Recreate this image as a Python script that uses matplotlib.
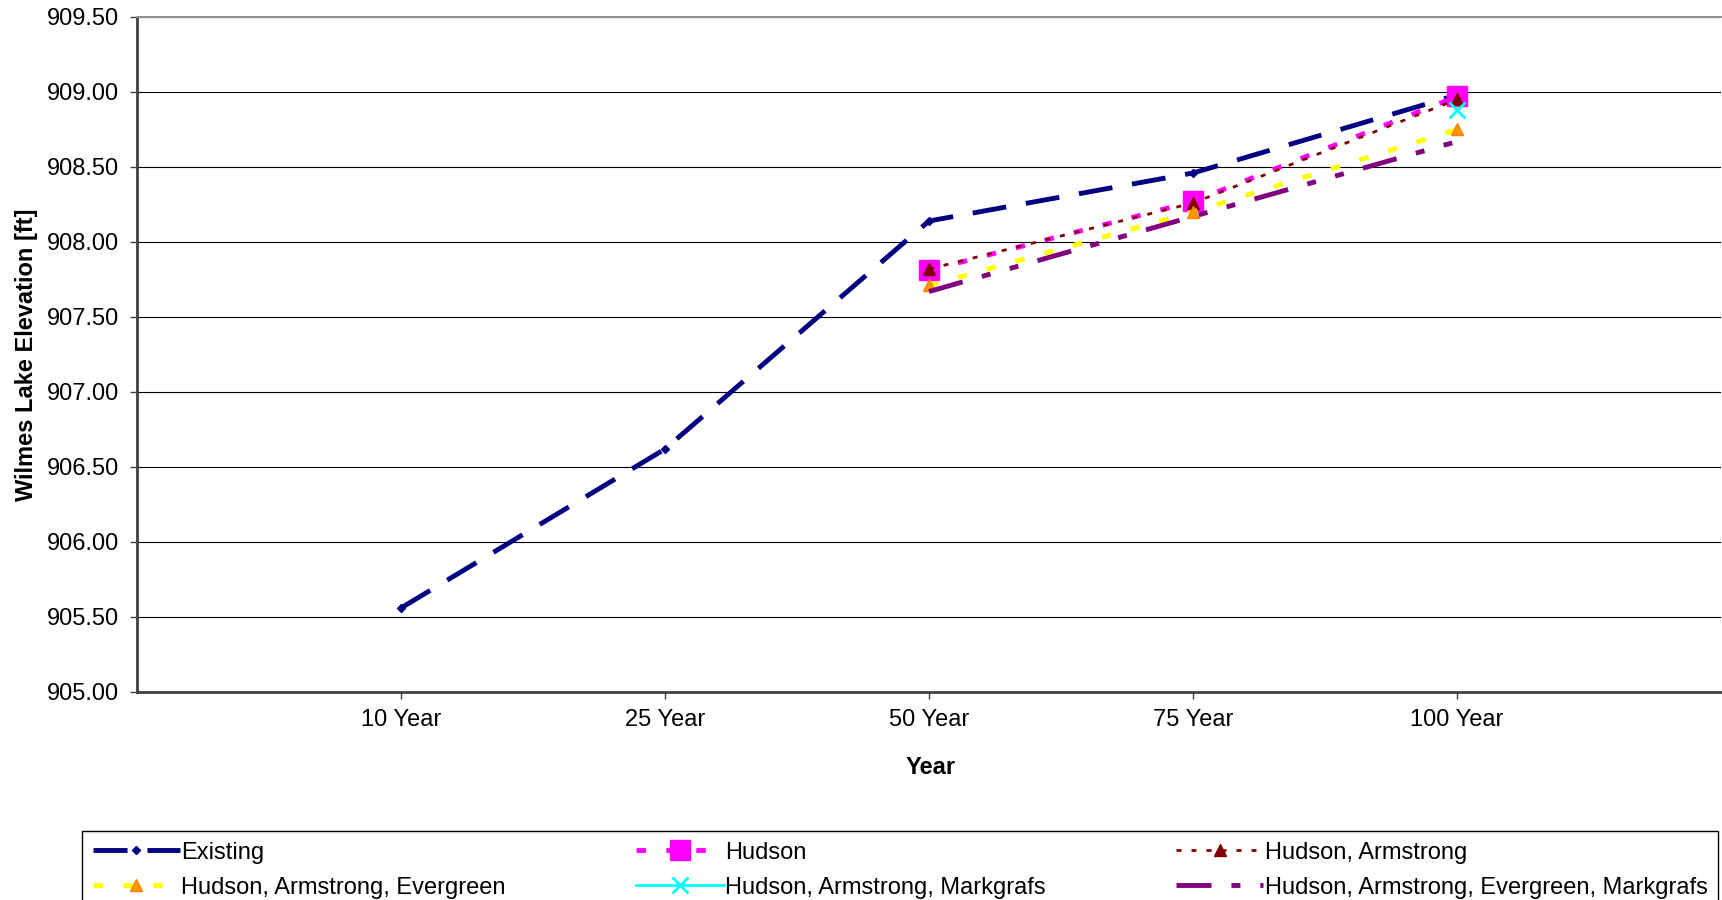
import numpy as np
import matplotlib
matplotlib.use("Agg")
import matplotlib.pyplot as plt

plt.rcParams['font.family'] = ['Liberation Sans', 'DejaVu Sans']

years = ["10 Year", "25 Year", "50 Year", "75 Year", "100 Year"]
existing = [905.56, 906.62, 908.14, 908.46, 908.98]
hudson = [np.nan, np.nan, 907.81, 908.27, 908.97]
hudson_arm = [np.nan, np.nan, 907.82, 908.26, 908.95]
hudson_arm_ever = [np.nan, np.nan, 907.71, 908.20, 908.75]
hudson_arm_mark = [np.nan, np.nan, np.nan, np.nan, 908.88]
hudson_arm_ever_mark = [np.nan, np.nan, 907.67, 908.17, 908.67]

yticks = np.arange(905.0, 909.51, 0.5)

W, H = 1722, 900
FS = 17
fig = plt.figure(figsize=(W / 100, H / 100), dpi=100)
ax = fig.add_axes([137 / W, 1 - 692 / H, 1584 / W, 675 / H])

x = np.arange(1, len(years) + 1)

l_ex, = ax.plot(x, existing, color='#000080', lw=3.5, dashes=(7.0, 4.1),
                marker='D', ms=4.5, label='Existing')
l_hu, = ax.plot(x, hudson, color='#FF00FF', lw=3.5, dashes=(1.95, 4.2),
                marker='s', ms=14, mec='#FF00FF', label='Hudson')
l_ha, = ax.plot(x, hudson_arm, color='#800000', lw=2, dashes=(1.8, 3.6),
                marker='^', ms=8, label='Hudson, Armstrong')
l_hae, = ax.plot(x, hudson_arm_ever, color='#FFFF00', lw=3.5, dashes=(1.95, 4.2),
                 marker='^', ms=9, mfc='#FF9900', mec='#FF8000',
                 label='Hudson, Armstrong, Evergreen')
l_ham, = ax.plot(x, hudson_arm_mark, color='#00FFFF', lw=2, marker='x', ms=11,
                 mew=2, label='Hudson, Armstrong, Markgrafs')
l_haem, = ax.plot(x, hudson_arm_ever_mark, color='#800080', lw=3.5,
                  dashes=(7.2, 4.1, 1.85, 4.1, 1.85, 4.1),
                  label='Hudson, Armstrong, Evergreen, Markgrafs')

ax.set_xlim(0, 6)
ax.set_ylim(905.0, 909.5)
ax.set_xticks(x)
ax.set_xticklabels(years)
ax.set_yticks(yticks)
ax.set_yticklabels([f"{v:.2f}" for v in yticks])
ax.tick_params(axis='both', labelsize=FS, length=5, width=1, color='#404040')
ax.tick_params(axis='y', pad=8)
ax.tick_params(axis='x', pad=7)

ax.grid(axis='y', color='black', lw=0.8)
ax.set_axisbelow(True)
ax.spines['right'].set_visible(False)
ax.spines['top'].set_color('#909090')
ax.spines['top'].set_linewidth(1.5)
ax.spines['left'].set_color('#404040')
ax.spines['left'].set_linewidth(2)
ax.spines['bottom'].set_color('#404040')
ax.spines['bottom'].set_linewidth(2)

fig.text(27 / W, 1 - 355 / H, "Wilmes Lake Elevation [ft]", rotation=90,
         ha='center', va='center', fontsize=FS, fontweight='bold')
fig.text(931 / W, 1 - 768 / H, "Year", ha='center', va='center',
         fontsize=FS, fontweight='bold')

# column-wise fill -> rows read Existing/Hudson/HA, HAE/HAM/HAEM
handles = [l_ex, l_hae, l_hu, l_ham, l_ha, l_haem]
leg_top = 1 - 831 / H
leg_h = 75 / H
leg = fig.legend(handles=handles, labels=[h.get_label() for h in handles],
                 loc='upper left',
                 bbox_to_anchor=(82 / W, leg_top - leg_h, (1718 - 82) / W, leg_h),
                 mode='expand', ncol=3, fontsize=FS, frameon=True, fancybox=False,
                 edgecolor='black', framealpha=1, borderpad=0.45,
                 borderaxespad=0, handlelength=3.7, handletextpad=0.05,
                 columnspacing=5.0, labelspacing=0.55, numpoints=1)
leg.get_frame().set_linewidth(1)

fig.savefig("out.png", dpi=100)
